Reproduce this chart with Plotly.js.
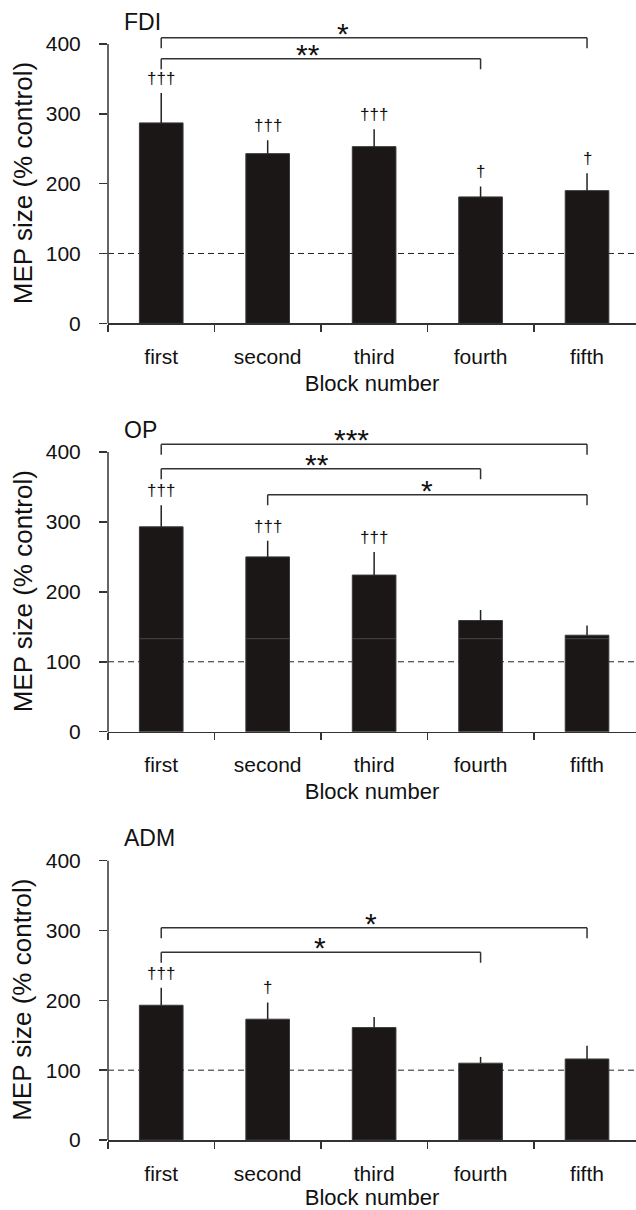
<!DOCTYPE html>
<html>
<head>
<meta charset="utf-8">
<script src="https://cdn.plot.ly/plotly-3.0.1.min.js"></script>
<style>html,body{margin:0;padding:0;background:#fff;}#chart{width:636px;height:1210px;}</style>
</head>
<body>
<div id="chart"></div>
<script>
// ---------- data ----------
const categories = ['first', 'second', 'third', 'fourth', 'fifth'];
const yTickVals = [0, 100, 200, 300, 400];
const panelNames = ['FDI', 'OP', 'ADM'];

const fdiMean = [287, 243, 253, 181, 190];
const fdiErr  = [43, 19, 25, 15, 25];
const fdiMarks = ['†††', '†††', '†††', '†', '†'];

const opMean = [293, 250, 224, 159, 138];
const opErr  = [31, 23, 33, 15, 14];
const opMarks = ['†††', '†††', '†††', '', ''];

const admMean = [193, 173, 161, 110, 116];
const admErr  = [25, 24, 15, 9, 19];
const admMarks = ['†††', '†', '', '', ''];

// significance brackets: [from index, to index, level, label, label x]
const fdiBrackets = [[0, 4, 409, '*', 1.71], [0, 3, 379, '**', 1.38]];
const opBrackets  = [[0, 4, 411, '***', 1.79], [0, 3, 376, '**', 1.46], [1, 4, 339, '*', 2.50]];
const admBrackets = [[0, 4, 304, '*', 1.97], [0, 3, 269, '*', 1.49]];

const controlLevel = 100;
const opArtifactLevel = 133;

// ---------- layout config ----------
const FONT = 'Liberation Sans, Arial, Helvetica, sans-serif';
const INK = '#111';
const LINE = '#333';
const BAR_W = 0.41;
const Y_MAX = 445;
const TITLE_LEVEL = 432;
const LEG = 15;
const H = 1210;
const xDomain = [108 / 636, 1];
// pixel rows of the value 0 and of the value 400 for each panel
const zeroRows = [323.3, 731.7, 1140];
const topRows = [44, 452, 860.7];
const yDomains = zeroRows.map((z, i) => {
  const perUnit = (z - topRows[i]) / 400;
  const topPix = z - Y_MAX * perUnit;
  return [1 - z / H, 1 - topPix / H];
});

const panels = [
  {mean: fdiMean, err: fdiErr, marks: fdiMarks, brackets: fdiBrackets},
  {mean: opMean, err: opErr, marks: opMarks, brackets: opBrackets},
  {mean: admMean, err: admErr, marks: admMarks, brackets: admBrackets}
];

const data = [];
const layout = {
  width: 636, height: H,
  margin: {l: 0, r: 0, t: 0, b: 0},
  paper_bgcolor: '#fff', plot_bgcolor: 'rgba(0,0,0,0)',
  showlegend: false, hovermode: false,
  font: {family: FONT, color: INK},
  shapes: [], annotations: []
};

panels.forEach((p, i) => {
  const k = i + 1;
  const xa = k === 1 ? 'x' : 'x' + k;
  const ya = k === 1 ? 'y' : 'y' + k;
  const xKey = k === 1 ? 'xaxis' : 'xaxis' + k;
  const yKey = k === 1 ? 'yaxis' : 'yaxis' + k;

  data.push({
    type: 'bar', x: categories, y: p.mean, xaxis: xa, yaxis: ya,
    width: BAR_W,
    marker: {color: '#1a1716', line: {color: '#3a3a3a', width: 1}},
    error_y: {type: 'data', symmetric: false, array: p.err,
              arrayminus: p.err.map(() => 0), color: '#222', thickness: 1.5, width: 0}
  });

  layout[xKey] = {
    type: 'category', domain: xDomain, anchor: ya, range: [-0.5, 4.46],
    showline: true, linecolor: LINE, linewidth: 1.5,
    ticks: 'outside', tickson: 'boundaries', ticklen: 7, tickwidth: 1.5, tickcolor: LINE,
    ticklabelstandoff: 14,
    tickfont: {size: 21, color: INK, family: FONT},
    showgrid: false, zeroline: false, fixedrange: true,
    title: {text: 'Block number', font: {size: 22, color: INK, family: FONT}, standoff: 8}
  };
  layout[yKey] = {
    domain: yDomains[i], anchor: xa, range: [0, Y_MAX],
    tickvals: yTickVals, ticktext: yTickVals.map(String),
    ticks: 'outside', ticklen: 8, tickwidth: 1.5, tickcolor: LINE,
    ticklabelstandoff: 14,
    tickfont: {size: 21, color: INK, family: FONT},
    showline: false, showgrid: false, zeroline: false, fixedrange: true
  };

  // y axis line from 0 to 400 only
  layout.shapes.push({type: 'line', xref: xa + ' domain', yref: ya + ' domain',
    x0: 0, x1: 0, y0: 0, y1: yTickVals[yTickVals.length - 1] / Y_MAX,
    line: {color: LINE, width: 1.5}});

  // dashed control line
  layout.shapes.push({type: 'line', layer: 'below', xref: xa + ' domain', yref: ya,
    x0: 0, x1: 1, y0: controlLevel, y1: controlLevel,
    line: {color: '#222', width: 1, dash: '6px,4px'}});

  // brackets
  p.brackets.forEach(b => {
    const [a, c, lvl, lab, lx] = b;
    const ln = {color: LINE, width: 1.5};
    layout.shapes.push({type: 'line', xref: xa, yref: ya, x0: a, x1: c, y0: lvl, y1: lvl, line: ln});
    layout.shapes.push({type: 'line', xref: xa, yref: ya, x0: a, x1: a, y0: lvl, y1: lvl - LEG, line: ln});
    layout.shapes.push({type: 'line', xref: xa, yref: ya, x0: c, x1: c, y0: lvl, y1: lvl - LEG, line: ln});
    layout.annotations.push({xref: xa, yref: ya, x: lx, y: lvl, text: lab, showarrow: false,
      xanchor: 'center', yanchor: 'bottom', yshift: -14,
      font: {size: 30, color: INK, family: FONT}});
  });

  // dagger marks
  p.marks.forEach((m, j) => {
    if (!m) return;
    layout.annotations.push({xref: xa, yref: ya, x: categories[j], y: p.mean[j] + p.err[j],
      text: m, showarrow: false, xanchor: 'center', yanchor: 'bottom', yshift: 3,
      font: {size: 17, color: INK, family: FONT}});
  });

  // panel title
  layout.annotations.push({xref: xa, yref: ya, x: -0.366, y: TITLE_LEVEL, text: panelNames[i],
    showarrow: false, xanchor: 'left', yanchor: 'middle',
    font: {size: 23, color: INK, family: FONT}});

  // y axis title
  layout.annotations.push({xref: 'paper', yref: ya, x: 22.5 / 636, y: 200,
    text: 'MEP size (% control)', textangle: -90, showarrow: false,
    xanchor: 'center', yanchor: 'middle',
    font: {size: 26, color: INK, family: FONT}});
});

// faint horizontal artifact line across OP bars
categories.forEach((c, j) => {
  layout.shapes.push({type: 'line', xref: 'x2', yref: 'y2',
    x0: j - BAR_W / 2, x1: j + BAR_W / 2, y0: opArtifactLevel, y1: opArtifactLevel,
    line: {color: '#4a4a4a', width: 1}});
});

Plotly.newPlot('chart', data, layout, {staticPlot: true, displayModeBar: false});
</script>
</body>
</html>
